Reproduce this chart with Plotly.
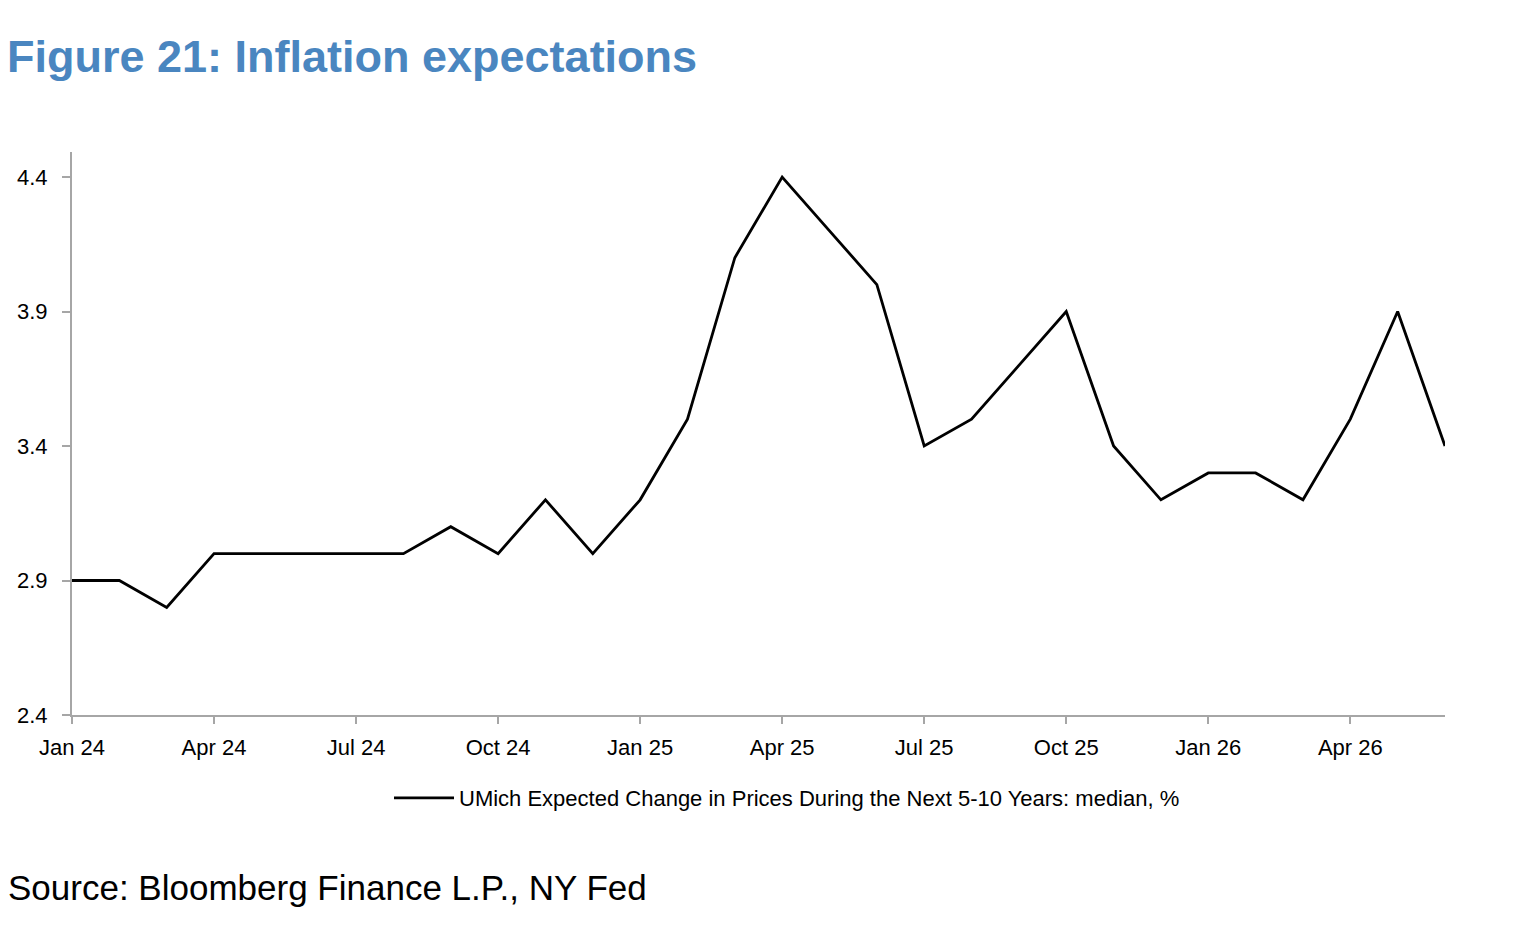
import plotly.graph_objects as go

months = ["Jan 24","Feb 24","Mar 24","Apr 24","May 24","Jun 24","Jul 24","Aug 24","Sep 24","Oct 24","Nov 24","Dec 24",
          "Jan 25","Feb 25","Mar 25","Apr 25","May 25","Jun 25","Jul 25","Aug 25","Sep 25","Oct 25","Nov 25","Dec 25",
          "Jan 26","Feb 26","Mar 26","Apr 26","May 26","Jun 26"]
umich = [2.9,2.9,2.8,3.0,3.0,3.0,3.0,3.0,3.1,3.0,3.2,3.0,
         3.2,3.5,4.1,4.4,4.2,4.0,3.4,3.5,3.7,3.9,3.4,3.2,
         3.3,3.3,3.2,3.5,3.9,3.4]
tick_labels = ["Jan 24","Apr 24","Jul 24","Oct 24","Jan 25","Apr 25","Jul 25","Oct 25","Jan 26","Apr 26"]
y_ticks = [2.4, 2.9, 3.4, 3.9, 4.4]

FONT = "Liberation Sans Narrow, Arial Narrow, Liberation Sans, Arial, sans-serif"
AXIS_GRAY = "#a6a6a6"

fig = go.Figure()
fig.add_trace(go.Scatter(
    x=months, y=umich, mode="lines",
    line=dict(color="black", width=2.8),
    name="UMich Expected Change in Prices During the Next 5-10 Years: median, %",
))

W, H = 1524, 935
L, R, T, B = 72, 79, 152, 220
pw, ph = W - L - R, H - T - B

fig.update_layout(
    width=W, height=H,
    paper_bgcolor="white", plot_bgcolor="white",
    margin=dict(l=L, r=R, t=T, b=B),
    font=dict(family=FONT, size=22, color="black"),
    title=dict(text="<b>Figure 21: Inflation expectations</b>",
               font=dict(family=FONT, size=45, color="#4a86c0"),
               xref="container", yref="container", x=7 / W, xanchor="left",
               y=1 - 56 / H, yanchor="middle"),
    showlegend=True,
    legend=dict(orientation="h", x=(787 - L) / pw, xanchor="center",
                y=(715 - 798) / ph, yanchor="middle",
                font=dict(family=FONT, size=22, color="black"),
                itemwidth=60, bgcolor="rgba(0,0,0,0)"),
    xaxis=dict(type="category", categoryorder="array", categoryarray=months,
               range=[0, len(months) - 1],
               tickmode="array", tickvals=tick_labels, ticktext=tick_labels,
               showgrid=False, zeroline=False,
               showline=True, linecolor=AXIS_GRAY, linewidth=2,
               ticks="outside", ticklen=7, tickwidth=2, tickcolor=AXIS_GRAY,
               ticklabelstandoff=5,
               tickfont=dict(family=FONT, size=22, color="black")),
    yaxis=dict(range=[2.4, 4.493], tickmode="array", tickvals=y_ticks,
               ticktext=[f"{v:.1f}" for v in y_ticks],
               showgrid=False, zeroline=False,
               showline=True, linecolor=AXIS_GRAY, linewidth=2,
               ticks="outside", ticklen=8, tickwidth=2, tickcolor=AXIS_GRAY,
               ticklabelstandoff=10,
               tickfont=dict(family=FONT, size=22, color="black")),
    annotations=[dict(text="Source: Bloomberg Finance L.P., NY Fed",
                      xref="paper", yref="paper",
                      x=(6 - L) / pw, xanchor="left",
                      y=(715 - 887) / ph, yanchor="middle",
                      showarrow=False,
                      font=dict(family=FONT, size=35, color="black"))],
)

fig.write_html("out.html")
